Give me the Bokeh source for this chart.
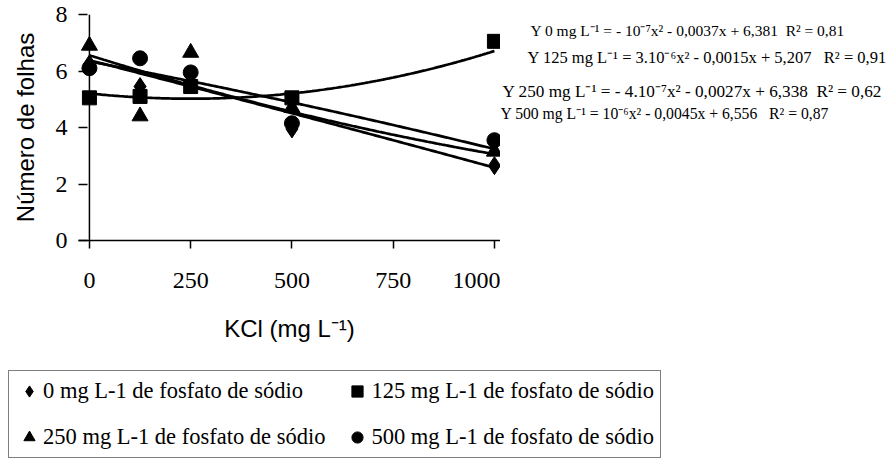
import numpy as np
from bokeh.plotting import figure
from bokeh.layouts import column, row
from bokeh.models import (Range1d, Legend, LegendItem, Span, FixedTicker,
                          ColumnDataSource)
from bokeh.core.properties import value
from bokeh.embed import file_html
from bokeh.resources import INLINE

# ---------------- data ----------------
kcl = [0, 125, 250, 500, 1000]
fos_0 = [6.25, 5.45, 5.55, 3.95, 2.65]      # diamonds
fos_125 = [5.05, 5.1, 5.45, 5.05, 7.05]     # squares
fos_250 = [6.9, 4.4, 6.65, 4.7, 3.15]       # triangles
fos_500 = [6.1, 6.45, 5.95, 4.15, 3.55]     # circles

series_labels = ["0 mg L-1 de fosfato de sódio", "125 mg L-1 de fosfato de sódio",
                 "250 mg L-1 de fosfato de sódio", "500 mg L-1 de fosfato de sódio"]
series_markers = ["diamond", "square", "triangle", "circle"]
series_values = [fos_0, fos_125, fos_250, fos_500]
marker_sizes = [18, 14, 16, 15]

# regression coefficients printed on the chart (y = a x^2 + b x + c)
coef_a = [-1e-7, 3e-6, -4e-7, 1e-6]
coef_b = [-0.0037, -0.0015, -0.0027, -0.0045]
coef_c = [6.381, 5.207, 6.338, 6.556]

NB = "\u00a0"
equations = [
    "Y 0 mg L\u207b\u00b9 = - 10\u207b\u2077x\u00b2 - 0,0037x + 6,381" + NB * 2 + "R\u00b2 = 0,81",
    "Y 125 mg L\u207b\u00b9 = 3.10\u207b\u2076x\u00b2 - 0,0015x + 5,207" + NB * 3 + "R\u00b2 = 0,91",
    "Y 250 mg L\u207b\u00b9 = - 4.10\u207b\u2077x\u00b2 - 0,0027x + 6,338" + NB * 2 + "R\u00b2 = 0,62",
    "Y 500 mg L\u207b\u00b9 = 10\u207b\u2076x\u00b2 - 0,0045x + 6,556" + NB * 3 + "R\u00b2 = 0,87",
]

x_ticks = [0, 250, 500, 750, 1000]
y_ticks = [0, 2, 4, 6, 8]

SERIF = "Liberation Serif"
SANS = "Liberation Sans"

# ---------------- main chart ----------------
p = figure(width=500, height=360, output_backend="svg", toolbar_location=None,
           x_range=Range1d(-27, 1015), y_range=Range1d(0, 8),
           min_border_left=78, min_border_right=0, min_border_top=14,
           min_border_bottom=120)
p.outline_line_color = None
p.xgrid.visible = False
p.ygrid.visible = False

ya = p.yaxis[0]
ya.ticker = FixedTicker(ticks=y_ticks)
ya.axis_line_color = None
ya.major_tick_in = 9
ya.major_tick_out = 0
ya.major_tick_line_color = "black"
ya.major_tick_line_width = 1.5
ya.minor_tick_line_color = None
ya.major_label_text_font = SERIF
ya.major_label_text_font_size = "24px"
ya.major_label_text_color = "black"
ya.major_label_standoff = 11
ya.axis_label = "Número de folhas"
ya.axis_label_text_font = SANS
ya.axis_label_text_font_size = "24px"
ya.axis_label_text_font_style = "normal"
ya.axis_label_text_color = "black"
ya.axis_label_standoff = 14

p.add_layout(Span(location=0, dimension="height", line_color="black", line_width=1.5))

xa = p.xaxis[0]
xa.ticker = FixedTicker(ticks=x_ticks)
xa.axis_line_color = "black"
xa.axis_line_width = 1.5
xa.major_tick_in = 0
xa.major_tick_out = 8
xa.major_tick_line_color = "black"
xa.major_tick_line_width = 1.5
xa.minor_tick_line_color = None
xa.major_label_text_font = SERIF
xa.major_label_text_font_size = "24px"
xa.major_label_text_color = "black"
xa.major_label_standoff = 24
xa.axis_label = "KCl (mg L\u207b\u00b9)"
xa.axis_label_text_font = SANS
xa.axis_label_text_font_size = "24px"
xa.axis_label_text_font_style = "normal"
xa.axis_label_text_color = "black"
xa.axis_label_standoff = 24

xs = np.linspace(0, 1000, 201)
for a, b, c in zip(coef_a, coef_b, coef_c):
    p.line(xs, a * xs ** 2 + b * xs + c, line_color="black", line_width=2.7)

for mk, vals, sz in zip(series_markers, series_values, marker_sizes):
    p.scatter(kcl, vals, marker=mk, size=sz, color="black")

# ---------------- equations panel (frame aligned with main frame; data = canvas px) ----------------
pe = figure(width=389, height=360, output_backend="svg", toolbar_location=None,
            x_range=Range1d(500, 889), y_range=Range1d(240, 14),
            x_axis_location=None, y_axis_location=None,
            min_border=0)
pe.outline_line_color = None
pe.grid.visible = False
eq_src = ColumnDataSource(dict(
    x=[530, 527, 502, 500],
    y=[30, 57, 91, 113],
    text=equations,
    fs=["15.5px", "16.5px", "17.2px", "15.7px"],
))
pe.text(x="x", y="y", text="text", source=eq_src, text_font=value(SERIF),
        text_font_size="fs", text_color="black", text_baseline="middle",
        text_align="left")

# ---------------- legend panel ----------------
pl = figure(width=889, height=99, output_backend="svg", toolbar_location=None,
            x_range=Range1d(-27, 1015), y_range=Range1d(0, 8),
            x_axis_location=None, y_axis_location=None, min_border=0)
pl.outline_line_color = None
pl.grid.visible = False
leg_renderers = []
for mk, vals, sz in zip(series_markers, series_values, marker_sizes):
    r = pl.scatter(kcl, vals, marker=mk, size=sz, color="black")
    r.visible = False
    leg_renderers.append(r)

legend = Legend(items=[LegendItem(label=lab, renderers=[r])
                       for lab, r in zip(series_labels, leg_renderers)],
                location=(8, 1), orientation="horizontal", ncols=2,
                label_text_font=SERIF, label_text_font_size="22.5px",
                label_text_color="black", glyph_width=28, glyph_height=28,
                label_height=28, label_standoff=-4, spacing=18, padding=6,
                margin=0, border_line_color="black", border_line_width=1.2,
                background_fill_color="white", background_fill_alpha=1,
                inactive_fill_alpha=0)
pl.add_layout(legend)

layout = column(row(p, pe), pl)
open("out.html", "w").write(file_html(layout, INLINE))
